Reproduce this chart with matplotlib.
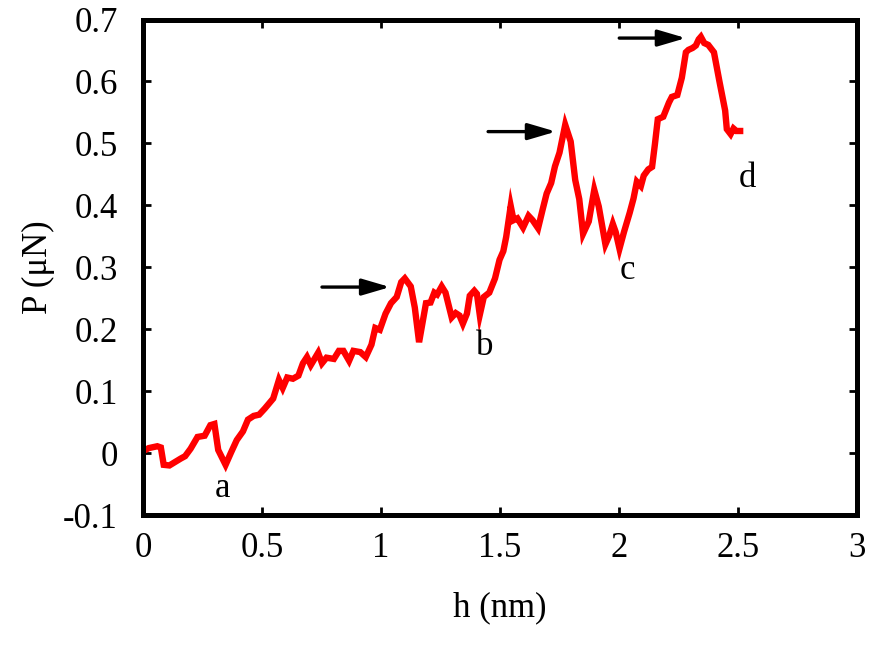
import matplotlib
matplotlib.use("Agg")
import matplotlib.pyplot as plt

h_nm = [0.0, 0.024, 0.06, 0.075, 0.087, 0.111, 0.158, 0.177, 0.2, 0.229, 0.259, 0.283, 0.30,
        0.316, 0.347, 0.37, 0.394, 0.42, 0.441, 0.465, 0.488, 0.512, 0.547, 0.571, 0.587,
        0.606, 0.63, 0.653, 0.672, 0.689, 0.705, 0.736, 0.752, 0.771, 0.802, 0.823, 0.842,
        0.866, 0.884, 0.913, 0.936, 0.96, 0.976, 0.995, 1.019, 1.042, 1.066, 1.085, 1.10,
        1.125, 1.142, 1.16, 1.189, 1.208, 1.224, 1.236, 1.255, 1.271, 1.297, 1.314, 1.33,
        1.344, 1.361, 1.373, 1.392, 1.403, 1.415, 1.432, 1.455, 1.479, 1.498, 1.514, 1.526,
        1.545, 1.557, 1.573, 1.597, 1.62, 1.637, 1.66, 1.679, 1.696, 1.715, 1.731, 1.75,
        1.774, 1.797, 1.816, 1.833, 1.849, 1.873, 1.896, 1.915, 1.943, 1.958, 1.974, 1.986,
        2.002, 2.021, 2.045, 2.061, 2.075, 2.092, 2.104, 2.123, 2.139, 2.151, 2.163, 2.186,
        2.21, 2.222, 2.245, 2.264, 2.281, 2.292, 2.309, 2.323, 2.335, 2.344, 2.358, 2.375,
        2.399, 2.422, 2.446, 2.453, 2.469, 2.481, 2.493, 2.509]
P_uN = [0.003, 0.008, 0.011, 0.009, -0.019, -0.02, -0.009, -0.005, 0.007, 0.026, 0.028, 0.045, 0.047,
        0.005, -0.019, 0.001, 0.021, 0.035, 0.054, 0.06, 0.062, 0.072, 0.088, 0.118, 0.105,
        0.122, 0.12, 0.125, 0.145, 0.155, 0.142, 0.162, 0.145, 0.154, 0.152, 0.165, 0.165,
        0.149, 0.165, 0.163, 0.155, 0.175, 0.202, 0.199, 0.225, 0.242, 0.252, 0.276, 0.282,
        0.269, 0.235, 0.179, 0.242, 0.243, 0.259, 0.256, 0.269, 0.259, 0.219, 0.226, 0.222,
        0.209, 0.225, 0.254, 0.262, 0.257, 0.223, 0.252, 0.259, 0.282, 0.312, 0.326, 0.349,
        0.399, 0.376, 0.379, 0.364, 0.383, 0.376, 0.363, 0.393, 0.419, 0.436, 0.463, 0.485,
        0.530, 0.503, 0.441, 0.41, 0.354, 0.374, 0.425, 0.398, 0.337, 0.35, 0.37, 0.357,
        0.330, 0.357, 0.388, 0.411, 0.438, 0.431, 0.448, 0.458, 0.462, 0.499, 0.539, 0.543,
        0.566, 0.575, 0.578, 0.606, 0.647, 0.651, 0.654, 0.658, 0.668, 0.672, 0.662, 0.659,
        0.647, 0.600, 0.553, 0.523, 0.515, 0.524, 0.520, 0.520]

point_labels = ["a", "b", "c", "d"]
label_x = [0.335, 1.437, 2.034, 2.538]
label_y = [-0.058, 0.172, 0.295, 0.444]

arrow_tail_x = [0.752, 1.45, 2.001]
arrow_head_x = [1.038, 1.735, 2.281]
arrow_y = [0.268, 0.519, 0.670]

plt.rcParams['font.family'] = ['Liberation Serif', 'DejaVu Serif']
plt.rcParams['mathtext.fontset'] = 'stix'

fig = plt.figure(figsize=(8.79, 6.52), dpi=100)
ax = fig.add_axes([143/879, 1 - 515/652, (857-143)/879, (515-19.5)/652])

ax.plot(h_nm, P_uN, color='#ff0000', lw=4.6, solid_joinstyle='miter')

for s, x, y in zip(point_labels, label_x, label_y):
    ax.text(x, y, s, fontsize=25, ha='center', va='center')

for xt, xh, y in zip(arrow_tail_x, arrow_head_x, arrow_y):
    ax.annotate("", xy=(xh, y), xytext=(xt, y),
                arrowprops=dict(arrowstyle='-|>,head_length=1.7,head_width=0.5',
                                mutation_scale=10, lw=2.4, color='black',
                                shrinkA=0, shrinkB=0))

ax.set_xlim(0, 3)
ax.set_ylim(-0.1, 0.7)
ax.set_xticks([0, 0.5, 1, 1.5, 2, 2.5, 3])
ax.set_xticklabels(["0", "0.5", "1", "1.5", "2", "2.5", "3"])
ax.set_yticks([-0.1, 0, 0.1, 0.2, 0.3, 0.4, 0.5, 0.6, 0.7])
ax.set_yticklabels(["-0.1", "0", "0.1", "0.2", "0.3", "0.4", "0.5", "0.6", "0.7"])

for sp in ax.spines.values():
    sp.set_linewidth(3.6)
ax.tick_params(direction='in', length=6, width=2, top=True, right=True,
               labelsize=25)
ax.tick_params(axis='x', pad=12)
ax.tick_params(axis='y', pad=18)

ax.set_xlabel("h (nm)", fontsize=25, labelpad=19)
ax.set_ylabel("P (μN)", fontsize=25, labelpad=6)

fig.savefig("out.png", dpi=100)
